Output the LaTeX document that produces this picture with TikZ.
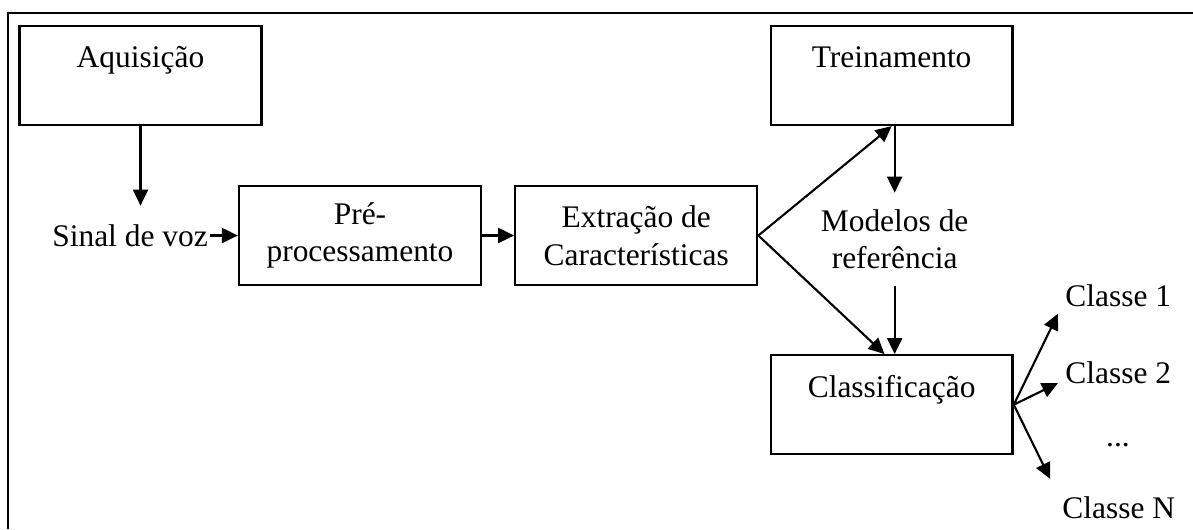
\documentclass[tikz,border=0pt]{standalone}
\usepackage{fontspec}
\setmainfont{Liberation Serif}
\usetikzlibrary{positioning,arrows.meta}
\tikzstyle{bx} = [rectangle, minimum width=4.84cm, minimum height=1.98cm, text centered, align=center, draw=black, line width=1.3pt]
\tikzstyle{lb} = [align=center, inner sep=1pt]
\tikzstyle{ar} = [-{Triangle[length=0.32cm,width=0.3cm]}, line width=1.2pt]

\begin{document}
\begin{tikzpicture}[x=0.02cm,y=-0.02cm,font=\fontsize{17.9}{21.4}\selectfont]
			\useasboundingbox (0,0) rectangle (1193,529);
			\draw[line width=1.3pt] (8,529) -- (8,13) -- (1193,13);
			\node[bx] (1) at (140.5,75.5) {Aquisição\\\mbox{}};
			\node[bx,right=10.14cm of 1] (2) {Treinamento\\\mbox{}};
			\node[bx] (3) at (360,235.5) {Pré-\\processamento};
			\node[bx,right=0.64cm of 3] (4) {Extração de\\Características};
			\node[bx,below=4.56cm of 2] (5) {Classificação\\\mbox{}};
			\node[lb,inner ysep=10.5pt,left=0.56cm of 3] (6) {Sinal de voz};
			\node[lb,inner ysep=9.3pt,below=1.33cm of 2,xshift=0.06cm] (7) {Modelos de\\referência};
			\node[lb,inner sep=4pt,anchor=base west] (8) at (1058,306) {Classe 1};
			\node[lb,inner sep=4pt,anchor=base west] (9) at (1058,383) {Classe 2};
			\node[lb,anchor=base] (10) at (1118,446) {...};
			\node[lb,inner sep=4pt,anchor=base west] (11) at (1055,518) {Classe N};
			\draw[ar] (1.south) -- (1.south |- 6.north);
			\draw[ar] (6) -- (3);
			\draw[ar] (3) -- (4);
			\draw[ar] (4.east) -- (2.south);
			\draw[ar] (4.east) -- (5.98);
			\draw[ar] (2.south -| 7.north) -- (7.north);
			\draw[ar] (7.south) -- (7.south |- 5.north);
			\draw[ar] (5.east) -- (8.south west);
			\draw[ar] (5.east) -- (9.base west);
			\draw[ar,shorten >=0.22cm] (5.east) -- (11.north west);
		\end{tikzpicture}
\end{document}
